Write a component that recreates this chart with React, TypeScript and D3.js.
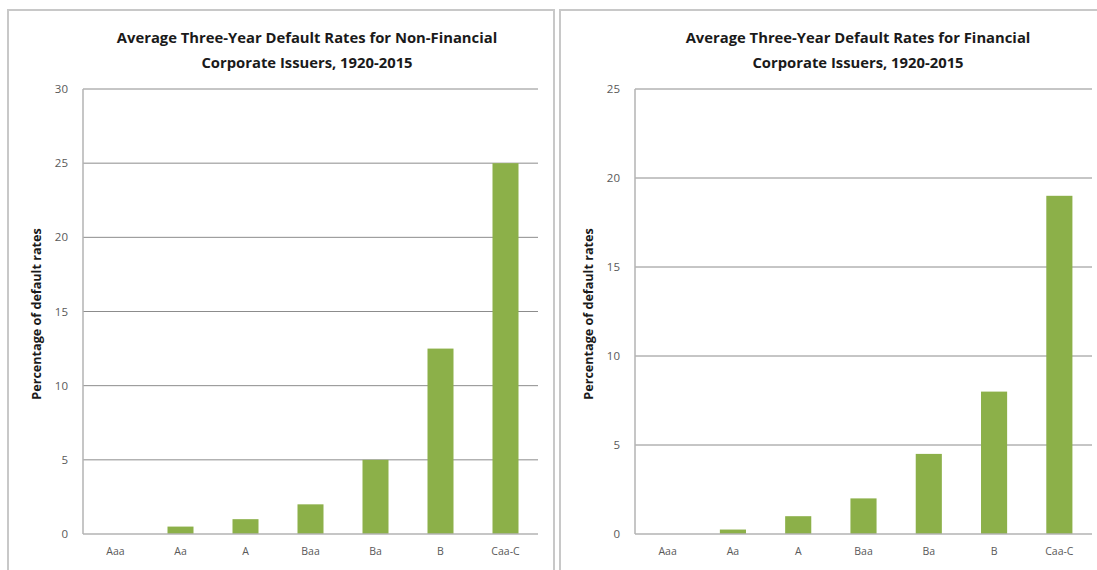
import React from "react";
import * as d3 from "d3";

const categories = ["Aaa", "Aa", "A", "Baa", "Ba", "B", "Caa-C"];
const nonFinancialRates = [0, 0.5, 1.0, 2.0, 5.0, 12.5, 25.0];
const financialRates = [0, 0.25, 1.0, 2.0, 4.5, 8.0, 19.0];
const nonFinancialTicks = [0, 5, 10, 15, 20, 25, 30];
const financialTicks = [0, 5, 10, 15, 20, 25];
const titleNonFinancial = ["Average Three-Year Default Rates for Non-Financial", "Corporate Issuers, 1920-2015"];
const titleFinancial = ["Average Three-Year Default Rates for Financial", "Corporate Issuers, 1920-2015"];
const yAxisTitle = "Percentage of default rates";

const FONT = "'Open Sans', Lato, sans-serif";
const BAR = "#8cb049";

type PanelProps = {
  px: number;
  pw: number;
  plotLeft: number;
  plotRight: number;
  values: number[];
  ticks: number[];
  title: string[];
  titleX: number;
};

function Panel({ px, pw, plotLeft, plotRight, values, ticks, title, titleX }: PanelProps) {
  const top = 89;
  const bottom = 534;
  const y = d3.scaleLinear().domain([0, d3.max(ticks) as number]).range([bottom, top]);
  const x = d3.scaleBand<string>().domain(categories).range([plotLeft, plotRight]).paddingInner(0.6).paddingOuter(0.3);
  return (
    <g>
      <rect x={px} y={10} width={pw} height={580} fill="#fff" stroke="#c8c8c8" strokeWidth={2} />
      {title.map((t, i) => (
        <text key={i} x={titleX} y={43 + i * 25} textAnchor="middle" fontFamily={FONT} fontWeight="bold" fontSize={14.8} fill="#1a1a1a">
          {t}
        </text>
      ))}
      {ticks.map((t) => (
        <g key={t}>
          {t > 0 && <line x1={plotLeft} x2={plotRight} y1={y(t)} y2={y(t)} stroke="#8c8c8c" strokeWidth={1} />}
          <text x={plotLeft - 15} y={y(t)} dy="0.35em" textAnchor="end" fontFamily={FONT} fontSize={11.5} fill="#595959">
            {t}
          </text>
        </g>
      ))}
      {categories.map((c, i) => (
        <rect key={c} x={x(c)} y={y(values[i])} width={x.bandwidth()} height={bottom - y(values[i])} fill={BAR} />
      ))}
      <line x1={plotLeft} x2={plotLeft} y1={top} y2={bottom} stroke="#b3b3b3" strokeWidth={1.5} />
      <line x1={plotLeft} x2={plotRight} y1={bottom} y2={bottom} stroke="#b3b3b3" strokeWidth={1.5} />
      {categories.map((c) => (
        <text key={c} x={(x(c) as number) + x.bandwidth() / 2} y={555} textAnchor="middle" fontFamily={FONT} fontSize={10.5} fill="#595959">
          {c}
        </text>
      ))}
      <text transform={`translate(${plotLeft - 42},${314}) rotate(-90)`} textAnchor="middle" fontFamily={FONT} fontWeight="bold" fontSize={12.6} fill="#1a1a1a">
        {yAxisTitle}
      </text>
    </g>
  );
}

export default function App() {
  return (
    <svg width={1097} height={570} style={{ position: "absolute", left: 0, top: 0 }}>
      <rect x={0} y={0} width={1097} height={570} fill="#fff" />
      <Panel px={8} pw={546} plotLeft={83} plotRight={538} values={nonFinancialRates} ticks={nonFinancialTicks} title={titleNonFinancial} titleX={307} />
      <Panel px={560} pw={560} plotLeft={635} plotRight={1092} values={financialRates} ticks={financialTicks} title={titleFinancial} titleX={858} />
    </svg>
  );
}
